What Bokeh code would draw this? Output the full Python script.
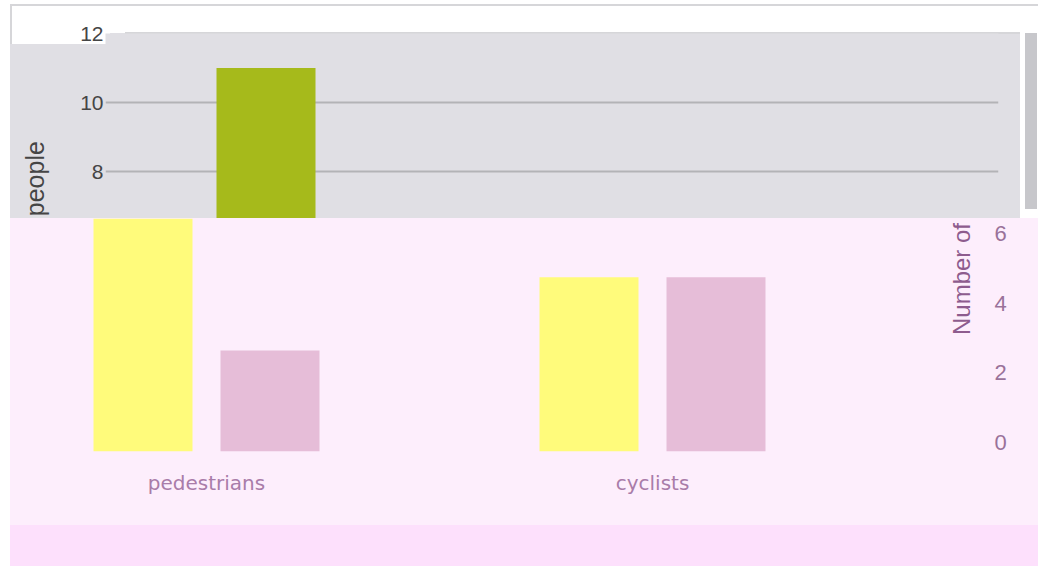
import numpy as np
from bokeh.plotting import figure
from bokeh.models import Range1d, FixedTicker, LinearAxis
from bokeh.embed import file_html
from bokeh.resources import INLINE

# ---------------- data ----------------
categories = ["pedestrians", "cyclists"]
yellow_values = [7.0, 5.0]      # pink panel, first series
pink_values = [2.9, 5.0]        # pink panel, second series
green_values = [11.0, 5.0]      # grey panel series
grey_ticks = [8, 10, 12]
pink_ticks = [0, 2, 4, 6]
y_title = "Number of people"

# ---------------- styling ----------------
FONT = "Liberation Sans"
WHITE = "#ffffff"
GREY_BG = "#e0dfe4"
EDGE = "#d6d6d9"
SCROLL = "#c7c7cb"
GRID = "#b3b3b6"
GREEN = "#a6ba1b"
PINK_BG = "#fdeefc"
STRIP = "#fde0fc"
YELLOW = "#fffb7b"
PINK_BAR = "#e6bdd8"
TEXT_DARK = "#454545"
CAT_TEXT = "#a97ca9"
NUM_TEXT = "#9a729a"
TITLE_TEXT = "#8e5c8e"

H = 566
OX = 10                     # page x of both canvases
SPLIT = 218                 # page y where the grey panel ends
PX_PER_UNIT = 446.0
PY_PER_UNIT = 34.83
bar_w = 99 / PX_PER_UNIT
xpos = np.arange(len(categories)) + 0.5

# ---------------- grey chart (top) ----------------
WA = 1028
fa_left, fa_right, fa_top, fa_bottom = 105, 998, 33, 447     # page px
xa0 = 0.5 - (206 - fa_left) / PX_PER_UNIT
pa = figure(width=WA, height=H,
            x_range=Range1d(xa0, xa0 + (fa_right - fa_left) / PX_PER_UNIT),
            y_range=Range1d(0, 12),
            x_axis_location=None,
            output_backend="svg", toolbar_location=None,
            min_border_left=fa_left - OX, min_border_right=WA - (fa_right - OX),
            min_border_top=fa_top, min_border_bottom=H - fa_bottom,
            background_fill_color=GREY_BG, border_fill_color=None)
pa.outline_line_color = None
pa.xgrid.visible = False
pa.yaxis.ticker = FixedTicker(ticks=grey_ticks)
pa.yaxis.axis_line_color = None
pa.yaxis.major_tick_line_color = None
pa.yaxis.minor_tick_line_color = None
pa.yaxis.major_tick_out = 0
pa.yaxis.major_label_standoff = 2
pa.yaxis.major_label_text_font = FONT
pa.yaxis.major_label_text_font_size = "21px"
pa.yaxis.major_label_text_color = TEXT_DARK
pa.yaxis.axis_label = y_title
pa.yaxis.axis_label_text_font = FONT
pa.yaxis.axis_label_text_font_size = "25px"
pa.yaxis.axis_label_text_font_style = "normal"
pa.yaxis.axis_label_text_color = TEXT_DARK
pa.yaxis.axis_label_standoff = 28
pa.ygrid.grid_line_color = GRID
pa.ygrid.grid_line_width = 2

pa.vbar(x=xpos + 59.5 / PX_PER_UNIT, top=green_values, bottom=0, width=bar_w,
        fill_color=GREEN, line_color=None)

pa.styles = {
    "position": "absolute", "top": "0px", "left": f"{OX}px", "z-index": "2",
    "background": ", ".join([
        f"linear-gradient({EDGE}, {EDGE}) 0px 4px / 100% 2px no-repeat",
        f"linear-gradient({EDGE}, {EDGE}) 0px 4px / 2px 40px no-repeat",
        f"linear-gradient({SCROLL}, {SCROLL}) 1015px 33px / 12px 176px no-repeat",
        f"linear-gradient({EDGE}, {EDGE}) 115px 32px / 895px 2px no-repeat",
        f"linear-gradient({WHITE}, {WHITE}) 0px 0px / 100px 44px no-repeat",
        f"linear-gradient({GREY_BG}, {GREY_BG}) 0px {fa_top}px / 1010px 100% no-repeat",
        f"{WHITE}",
    ]),
    "clip-path": f"inset(0px 0px {H - SPLIT}px 0px)",
}

# ---------------- pink chart (bottom) ----------------
WB = 1028
fb_left, fb_right, fb_top, fb_bottom = 40, 948, SPLIT, 451      # page px
xb0 = 0.5 - (206 - fb_left) / PX_PER_UNIT
yb_end = (fb_bottom - fb_top) / PY_PER_UNIT
pb = figure(width=WB, height=H,
            x_range=Range1d(xb0, xb0 + (fb_right - fb_left) / PX_PER_UNIT),
            y_range=Range1d(0, yb_end),
            y_axis_location=None,
            output_backend="svg", toolbar_location=None,
            min_border_left=fb_left - OX, min_border_right=WB - (fb_right - OX),
            min_border_top=fb_top, min_border_bottom=H - fb_bottom,
            background_fill_color=PINK_BG, border_fill_color=None)
pb.outline_line_color = None
pb.xgrid.visible = False
pb.ygrid.visible = False

pb.xaxis.ticker = FixedTicker(ticks=[float(v) for v in xpos])
pb.xaxis.major_label_overrides = {float(v): c for v, c in zip(xpos, categories)}
pb.xaxis.axis_line_color = None
pb.xaxis.major_tick_line_color = None
pb.xaxis.minor_tick_line_color = None
pb.xaxis.major_tick_out = 0
pb.xaxis.major_label_standoff = 19
pb.xaxis.major_label_text_font = "DejaVu Sans"
pb.xaxis.major_label_text_font_size = "20px"
pb.xaxis.major_label_text_color = CAT_TEXT

label_shift = 9 / PY_PER_UNIT
pb.extra_y_ranges = {"labels": Range1d(-label_shift, yb_end - label_shift)}
title_axis = LinearAxis(ticker=FixedTicker(ticks=[]), axis_label=y_title,
                        axis_line_color=None, major_tick_line_color=None,
                        minor_tick_line_color=None, major_tick_out=0,
                        major_label_standoff=0, axis_label_standoff=13,
                        axis_label_text_font=FONT, axis_label_text_font_size="24px",
                        axis_label_text_font_style="normal",
                        axis_label_text_color=TITLE_TEXT)
if "axis_label_orientation" in title_axis.properties():
    title_axis.axis_label_orientation = float(np.pi / 2)
pb.add_layout(title_axis, "right")

tick_axis = LinearAxis(y_range_name="labels", ticker=FixedTicker(ticks=pink_ticks),
                       axis_line_color=None, major_tick_line_color=None,
                       minor_tick_line_color=None, major_tick_out=0,
                       major_label_standoff=3,
                       major_label_text_font=FONT, major_label_text_font_size="22px",
                       major_label_text_color=NUM_TEXT)
pb.add_layout(tick_axis, "right")

pb.vbar(x=xpos - 63.5 / PX_PER_UNIT, top=yellow_values, bottom=0, width=bar_w,
        fill_color=YELLOW, line_color=None)
pb.vbar(x=xpos + 63.5 / PX_PER_UNIT, top=pink_values, bottom=0, width=bar_w,
        fill_color=PINK_BAR, line_color=None)

pb.styles = {
    "position": "absolute", "top": "0px", "left": f"{OX}px", "z-index": "1",
    "background": (f"linear-gradient(to bottom, {PINK_BG} 0px, {PINK_BG} 525px, "
                   f"{STRIP} 525px, {STRIP} 100%)"),
}

open("out.html", "w").write(file_html([pb, pa], INLINE))
